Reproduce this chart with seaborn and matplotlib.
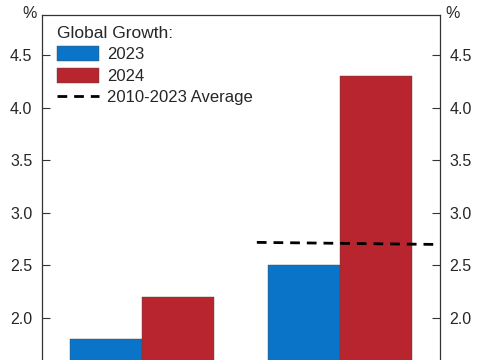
import numpy as np
import pandas as pd
import matplotlib
matplotlib.use("Agg")
import matplotlib.pyplot as plt
from matplotlib.patches import Patch
from matplotlib.lines import Line2D
import seaborn as sns

# datos
groups = ["A", "B"]
years = ["2023", "2024"]
growth_2023 = [1.8, 2.5]
growth_2024 = [2.2, 4.3]
avg_x = [0.58, 1.5]
avg_y = [2.72, 2.70]
yticks = [2.0, 2.5, 3.0, 3.5, 4.0, 4.5]
colors = ["#0A74C8", "#B8252F"]

df = pd.DataFrame({
    "group": groups * 2,
    "year": [years[0]] * 2 + [years[1]] * 2,
    "value": growth_2023 + growth_2024,
})

sns.set_style("white")
plt.rcParams["font.family"] = ["Liberation Sans", "DejaVu Sans"]

fig = plt.figure(figsize=(4.85, 3.6), dpi=100)
ax = fig.add_axes([42 / 485, 0, 398 / 485, 345 / 360])

sns.barplot(data=df, x="group", y="value", hue="year", palette=colors,
            width=0.73, ax=ax, legend=False, saturation=1,
            edgecolor="#4a4a4a", linewidth=0.3)
ax.plot(avg_x, avg_y, color="black", linestyle=(0, (3.5, 2.5)), linewidth=2)

ax.set_xlim(-0.505, 1.505)
ax.set_ylim(1.6, 4.885)
ax.set_xlabel("")
ax.set_ylabel("")
ax.set_xticks([])
ax.set_yticks(yticks)
ax.set_yticklabels([f"{t:.1f}" for t in yticks], fontsize=11.5)
ax.tick_params(axis="y", direction="in", length=6, width=0.8, color="#333333",
               left=True, right=True, labelleft=True, labelright=True, pad=7)
for s in ["left", "right", "top"]:
    ax.spines[s].set_color("#333333")
    ax.spines[s].set_linewidth(0.9)
ax.spines["bottom"].set_visible(False)

fig.text(30 / 485, 1 - 14 / 360, "%", fontsize=11.5, ha="center", va="center")
fig.text(453 / 485, 1 - 14 / 360, "%", fontsize=11.5, ha="center", va="center")

handles = [Patch(facecolor=colors[0], edgecolor="#4a4a4a", linewidth=0.3),
           Patch(facecolor=colors[1], edgecolor="#4a4a4a", linewidth=0.3),
           Line2D([], [], color="black", linestyle=(0, (3.5, 2.5)), linewidth=2)]
leg = ax.legend(handles, ["2023", "2024", "2010-2023 Average"],
                title="Global Growth:", loc="upper left",
                bbox_to_anchor=(0.01, 1.0), frameon=False, fontsize=12,
                title_fontsize=12.5, handlelength=2.55, handleheight=1.0,
                handletextpad=0.45, labelspacing=0.32, borderaxespad=0.25)
leg._legend_box.align = "left"

fig.savefig("out.png", dpi=100)
